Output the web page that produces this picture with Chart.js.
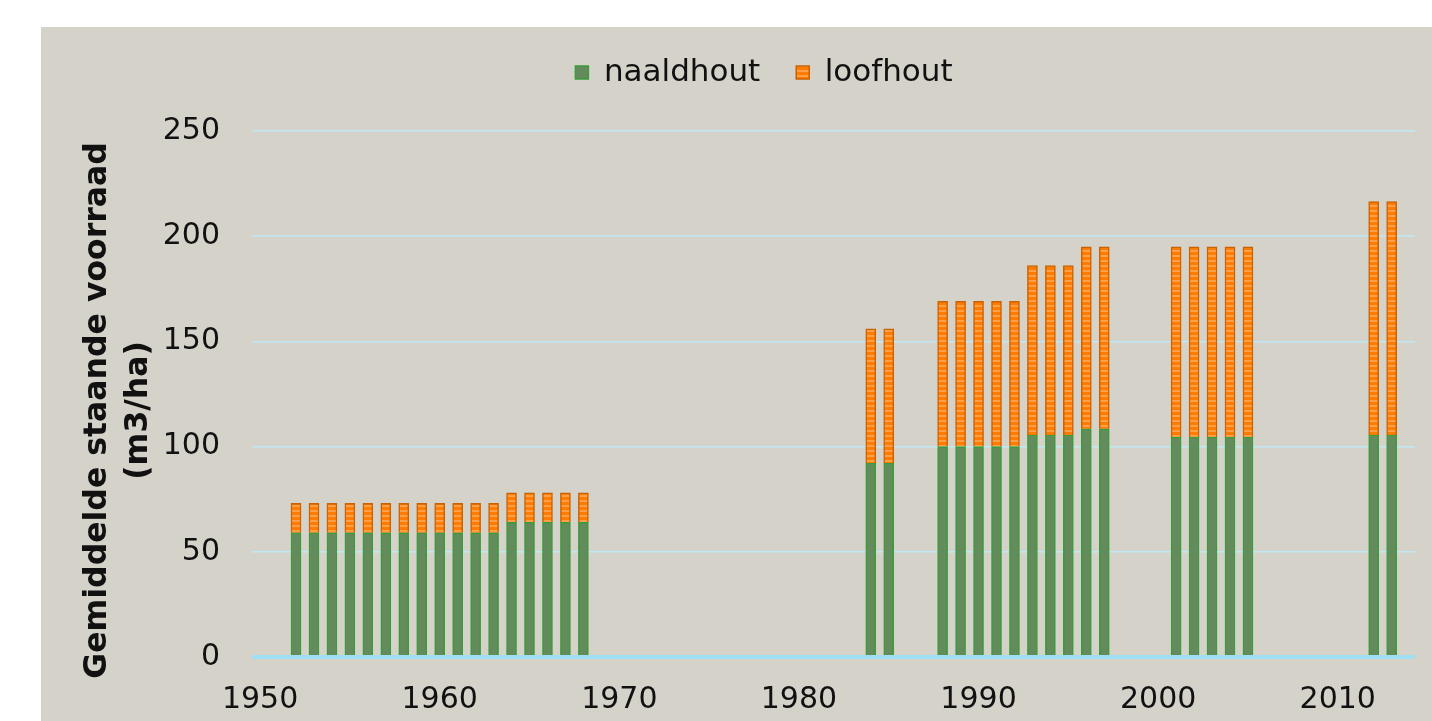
<!DOCTYPE html>
<html>
<head>
<meta charset="utf-8">
<script src="https://cdn.jsdelivr.net/npm/chart.js@4.4.1/dist/chart.umd.min.js"></script>
<style>
  html, body { margin: 0; padding: 0; background: #ffffff; }
  #wrap {
    position: absolute;
    left: 41px;
    top: 27px;
    width: 1391px;
    height: 694px;
    background: #d5d2ca;
  }
</style>
</head>
<body>
<div id="wrap"><canvas id="voorraadChart"></canvas></div>
<script>
const years = [
  1952, 1953, 1954, 1955, 1956, 1957, 1958, 1959, 1960, 1961, 1962, 1963,
  1964, 1965, 1966, 1967, 1968,
  1984, 1985,
  1988, 1989, 1990, 1991, 1992, 1993, 1994, 1995, 1996, 1997,
  2001, 2002, 2003, 2004, 2005,
  2012, 2013
];
const naaldhout = [
  59, 59, 59, 59, 59, 59, 59, 59, 59, 59, 59, 59,
  64, 64, 64, 64, 64,
  92, 92,
  100, 100, 100, 100, 100, 105.5, 105.5, 105.5, 108.5, 108.5,
  104.5, 104.5, 104.5, 104.5, 104.5,
  105.5, 105.5
];
const loofhout = [
  14, 14, 14, 14, 14, 14, 14, 14, 14, 14, 14, 14,
  14, 14, 14, 14, 14,
  64, 64,
  69, 69, 69, 69, 69, 80.5, 80.5, 80.5, 86.5, 86.5,
  90.5, 90.5, 90.5, 90.5, 90.5,
  111, 111
];
const xTickYears = [1950, 1960, 1970, 1980, 1990, 2000, 2010];
const yTicks = [0, 50, 100, 150, 200, 250];

function stripes() {
  const c = document.createElement("canvas");
  c.width = 5;
  c.height = 5;
  const g = c.getContext("2d");
  g.fillStyle = "#ff7c00";
  g.fillRect(0, 0, 5, 5);
  g.fillStyle = "#ffa048";
  g.fillRect(0, 3, 5, 2);
  return g.createPattern(c, "repeat");
}

const orangeFill = stripes();
const font = "'DejaVu Sans', sans-serif";

const ctx = document.getElementById("voorraadChart");

// fixed legend band height, and nudge the legend a bit right/up like the original
const legendBox = {
  id: "legendBox",
  beforeInit(chart) {
    const fit = chart.legend.fit;
    chart.legend.fit = function () {
      fit.bind(chart.legend)();
      this.height = 104;
    };
  },
  afterLayout(chart) {
    const lg = chart.legend;
    lg.left += 36;
    lg.right += 36;
    lg.top -= 6;
    lg.bottom -= 6;
  },
};

new Chart(ctx, {
  type: "bar",
  data: {
    datasets: [
      {
        label: "naaldhout",
        data: years.map((y, i) => ({ x: y, y: naaldhout[i] })),
        backgroundColor: "#638b5c",
        borderColor: "#3a9c3a",
        borderWidth: 1.5,
        barThickness: 10,
      },
      {
        label: "loofhout",
        data: years.map((y, i) => ({ x: y, y: loofhout[i] })),
        backgroundColor: orangeFill,
        borderColor: "#c96200",
        borderWidth: 1.5,
        barThickness: 10,
      },
    ],
  },
  options: {
    responsive: true,
    maintainAspectRatio: false,
    animation: false,
    layout: { padding: { right: 17, top: 0, bottom: 0, left: 0 } },
    plugins: {
      tooltip: { enabled: false },
      legend: {
        position: "top",
        align: "center",
        labels: {
          font: { family: font, size: 31 },
          color: "#111111",
          boxWidth: 13,
          boxHeight: 13,
          padding: 36,
        },
      },
    },
    scales: {
      x: {
        type: "linear",
        stacked: true,
        offset: false,
        min: 1949.55,
        max: 2014.3,
        afterBuildTicks: (axis) => {
          axis.ticks = xTickYears.map((v) => ({ value: v }));
        },
        afterFit: (axis) => {
          axis.height = 64;
        },
        grid: { display: false, drawTicks: false, offset: false },
        border: { display: false },
        ticks: {
          padding: 25,
          color: "#111111",
          font: { family: font, size: 30 },
          callback: (v) => String(v),
        },
      },
      y: {
        stacked: true,
        min: 0,
        max: 250,
        afterBuildTicks: (axis) => {
          axis.ticks = yTicks.map((v) => ({ value: v }));
        },
        afterFit: (axis) => {
          axis.width = 211;
        },
        grid: {
          drawTicks: false,
          color: (c) => (c.tick && c.tick.value === 0 ? "#9fdff4" : "#bfe7f4"),
          lineWidth: (c) => (c.tick && c.tick.value === 0 ? 4 : 1.5),
        },
        border: { display: false },
        ticks: {
          padding: 32,
          color: "#111111",
          font: { family: font, size: 30 },
        },
        title: {
          display: true,
          // trailing spaces push the rotated text a little lower, as in the original
          text: ["Gemiddelde staande voorraad   ", "(m3/ha)   "],
          color: "#111111",
          font: { family: font, size: 31.5, weight: "bold", lineHeight: 1.3 },
          padding: { top: 36, bottom: 0 },
        },
      },
    },
  },
  plugins: [legendBox],
});
</script>
</body>
</html>
